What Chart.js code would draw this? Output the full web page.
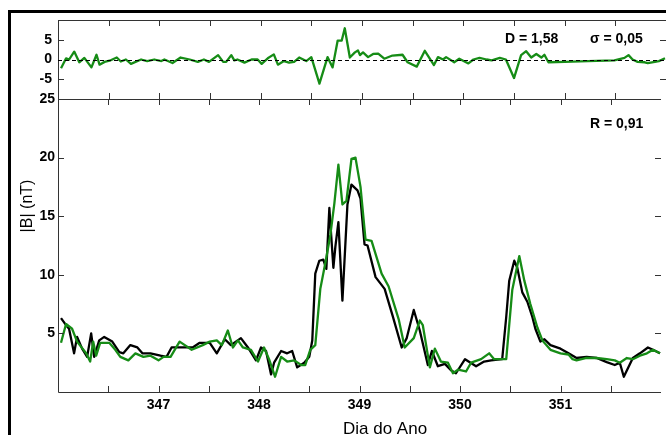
<!DOCTYPE html>
<html>
<head>
<meta charset="utf-8">
<script src="https://cdn.jsdelivr.net/npm/chart.js@4.4.1/dist/chart.umd.min.js"></script>
<style>
  html, body { margin: 0; padding: 0; background: #fff; }
  #wrap { position: relative; width: 666px; height: 435px; overflow: hidden; }
  canvas { position: absolute; left: 0; top: 0; }
</style>
</head>
<body>
<div id="wrap">
  <canvas id="mainChart" width="666" height="435"></canvas>
  <canvas id="diffChart" width="666" height="130"></canvas>
</div>
<script>
// |B| observado (preto)
const blackDays = [346.03, 346.08, 346.11, 346.16, 346.19, 346.24, 346.29, 346.33, 346.36, 346.41, 346.46, 346.54, 346.61, 346.65, 346.72, 346.79, 346.84, 346.92, 347.02, 347.08, 347.13, 347.21, 347.34, 347.41, 347.51, 347.58, 347.66, 347.72, 347.82, 347.89, 347.97, 348.02, 348.07, 348.12, 348.15, 348.22, 348.28, 348.33, 348.38, 348.45, 348.50, 348.53, 348.56, 348.60, 348.64, 348.67, 348.70, 348.74, 348.76, 348.79, 348.83, 348.88, 348.92, 348.98, 349.01, 349.05, 349.08, 349.16, 349.25, 349.33, 349.42, 349.47, 349.54, 349.60, 349.68, 349.72, 349.78, 349.85, 349.91, 349.96, 350.05, 350.16, 350.24, 350.31, 350.42, 350.46, 350.49, 350.54, 350.57, 350.62, 350.67, 350.72, 350.75, 350.80, 350.84, 350.90, 351.00, 351.08, 351.16, 351.26, 351.36, 351.46, 351.54, 351.59, 351.63, 351.72, 351.79, 351.87, 351.92, 351.99];
const blackValues = [6.3, 5.7, 5.4, 3.3, 4.7, 3.7, 3.0, 5.0, 3.0, 4.4, 4.7, 4.3, 3.4, 3.3, 4.0, 3.8, 3.3, 3.3, 3.1, 3.0, 3.8, 3.8, 3.8, 4.2, 4.2, 3.3, 4.5, 4.0, 4.6, 3.8, 2.7, 3.8, 3.5, 1.5, 2.5, 3.5, 3.3, 3.5, 2.1, 2.5, 3.0, 4.4, 10.1, 11.2, 11.3, 10.5, 15.7, 10.6, 12.4, 14.5, 7.8, 16.0, 17.7, 17.2, 16.5, 12.6, 12.5, 9.8, 8.8, 6.5, 3.8, 4.6, 7.0, 5.25, 2.3, 3.5, 2.2, 2.4, 1.85, 1.6, 2.8, 2.2, 2.6, 2.7, 2.8, 6.4, 9.5, 11.2, 10.6, 8.5, 7.7, 6.4, 5.4, 4.3, 4.5, 4.0, 3.7, 3.3, 2.9, 3.0, 2.9, 2.55, 2.3, 2.5, 1.3, 2.9, 3.3, 3.8, 3.6, 3.3];

// |B| modelo (verde)
const greenDays = [346.03, 346.08, 346.14, 346.19, 346.28, 346.32, 346.35, 346.38, 346.42, 346.51, 346.57, 346.62, 346.70, 346.77, 346.85, 346.92, 347.00, 347.05, 347.12, 347.21, 347.33, 347.44, 347.51, 347.58, 347.63, 347.69, 347.74, 347.79, 347.84, 347.92, 347.99, 348.05, 348.10, 348.16, 348.22, 348.28, 348.35, 348.42, 348.46, 348.51, 348.56, 348.61, 348.66, 348.71, 348.75, 348.79, 348.83, 348.87, 348.92, 348.96, 349.01, 349.06, 349.12, 349.22, 349.29, 349.39, 349.45, 349.54, 349.60, 349.63, 349.70, 349.75, 349.81, 349.88, 349.93, 349.98, 350.06, 350.11, 350.21, 350.29, 350.34, 350.46, 350.52, 350.59, 350.64, 350.70, 350.77, 350.82, 350.90, 351.00, 351.08, 351.12, 351.16, 351.25, 351.36, 351.46, 351.54, 351.59, 351.66, 351.72, 351.79, 351.86, 351.92, 351.99];
const greenValues = [4.2, 5.8, 5.4, 4.3, 3.3, 2.6, 4.3, 3.1, 4.2, 4.2, 3.6, 3.0, 2.7, 3.3, 3.0, 3.1, 2.7, 3.0, 3.0, 4.3, 3.6, 4.0, 4.3, 4.4, 4.0, 5.25, 3.8, 4.4, 3.8, 3.6, 2.6, 3.8, 2.8, 1.3, 3.0, 2.6, 2.7, 2.3, 2.3, 3.6, 4.0, 8.8, 11.0, 13.4, 16.1, 19.4, 16.0, 16.3, 19.9, 20.0, 17.5, 13.0, 12.9, 10.1, 9.0, 6.2, 3.8, 4.6, 6.1, 5.7, 2.1, 3.7, 2.6, 2.5, 1.6, 1.9, 1.75, 2.5, 2.8, 3.3, 2.8, 2.8, 8.7, 11.6, 9.5, 7.5, 5.5, 4.4, 3.6, 3.3, 3.2, 2.8, 2.7, 2.9, 2.9, 2.8, 2.7, 2.5, 2.9, 2.8, 3.1, 3.3, 3.6, 3.3];

// diferenca (painel superior)
const diffDays = [346.03, 346.08, 346.11, 346.16, 346.21, 346.26, 346.33, 346.38, 346.41, 346.46, 346.52, 346.58, 346.62, 346.67, 346.72, 346.82, 346.88, 346.95, 347.02, 347.05, 347.13, 347.21, 347.30, 347.38, 347.44, 347.49, 347.58, 347.63, 347.66, 347.71, 347.74, 347.77, 347.84, 347.91, 347.97, 348.01, 348.07, 348.13, 348.17, 348.23, 348.28, 348.33, 348.38, 348.45, 348.50, 348.58, 348.66, 348.71, 348.76, 348.80, 348.83, 348.88, 348.93, 348.96, 348.98, 349.01, 349.06, 349.11, 349.16, 349.22, 349.30, 349.40, 349.45, 349.54, 349.62, 349.71, 349.75, 349.80, 349.83, 349.91, 349.96, 350.05, 350.10, 350.16, 350.23, 350.28, 350.36, 350.42, 350.50, 350.57, 350.62, 350.67, 350.72, 350.77, 350.80, 350.84, 351.00, 351.23, 351.49, 351.59, 351.63, 351.67, 351.72, 351.79, 351.82, 351.89, 351.93, 351.99];
const diffValues = [-2.2, 0.3, 0.0, 2.0, -0.7, 0.4, -2.0, 1.2, -1.3, -0.6, -0.2, 0.5, -0.5, 0.0, -1.1, 0.0, -0.4, 0.0, -0.4, 0.0, -0.9, 0.5, 0.0, -0.6, 0.0, -0.6, 1.1, -0.6, -0.6, 1.1, -0.2, 0.0, -0.8, 0.0, 0.0, -1.1, 0.3, 1.3, -1.3, -0.4, -0.8, -0.6, 0.5, -0.4, 0.6, -6.1, 0.6, -2.0, 4.8, 4.8, 7.9, 0.5, 1.8, 2.3, 1.1, 1.8, 0.6, 1.4, 1.5, 0.2, 1.0, 1.2, -0.7, -1.8, 2.2, -1.4, 0.6, 0.0, 0.6, -0.7, 0.2, -1.0, 0.0, 0.4, 0.0, -0.2, 0.4, 0.0, -4.7, 1.1, 2.1, 0.5, 1.4, 0.5, 1.2, -0.7, -0.6, -0.4, -0.2, 0.4, 1.1, 0.0, -0.6, -0.7, -0.9, -0.6, -0.4, 0.3];

const dayMin = 346, dayMax = 352;
const mainTicks = [0, 5, 10, 15, 20, 25];
const diffTicks = [-10, -5, 0, 5, 10];

const FONT = '"Liberation Sans", Arial, sans-serif';
const GREEN = '#168c16';
const AXIS = '#333';

function toPoints(days, vals) {
    return days.map((d, i) => ({ x: d, y: vals[i] }));
}

// marcas de escala para dentro
function drawInnerTicks(ctx, chart, opts) {
    const a = chart.chartArea;
    const x = chart.scales.x, y = chart.scales.y;
    ctx.beginPath();
    x.ticks.forEach(t => {
        if (t.value <= dayMin || t.value >= dayMax) return;
        const px = Math.round(x.getPixelForValue(t.value)) + 0.5;
        if (opts.top) { ctx.moveTo(px, a.top); ctx.lineTo(px, a.top + 6); }
        if (opts.bottom) { ctx.moveTo(px, a.bottom); ctx.lineTo(px, a.bottom - 6); }
    });
    y.ticks.forEach(t => {
        if (opts.skipY.includes(t.value)) return;
        const py = Math.round(y.getPixelForValue(t.value)) + 0.5;
        ctx.moveTo(a.left, py); ctx.lineTo(a.left + 6, py);
        ctx.moveTo(a.right, py); ctx.lineTo(a.right - 6, py);
    });
    ctx.stroke();
}

const mainDecor = {
    id: 'mainDecor',
    afterDraw(chart) {
        const ctx = chart.ctx, a = chart.chartArea;
        ctx.save();
        // moldura grossa
        ctx.fillStyle = '#000';
        ctx.fillRect(8, 10, 666, 3);
        ctx.fillRect(8, 10, 3, 435);
        // eixos
        ctx.strokeStyle = AXIS;
        ctx.lineWidth = 1;
        ctx.beginPath();
        ctx.moveTo(a.left + 0.5, 20);
        ctx.lineTo(a.left + 0.5, a.bottom + 0.5);
        ctx.lineTo(a.right, a.bottom + 0.5);
        ctx.moveTo(a.left, a.top + 0.5);
        ctx.lineTo(a.right, a.top + 0.5);
        ctx.stroke();
        drawInnerTicks(ctx, chart, { top: true, bottom: true, skipY: [0, 25] });
        // textos
        ctx.fillStyle = '#000';
        ctx.font = 'bold 14px ' + FONT;
        ctx.textAlign = 'left';
        ctx.textBaseline = 'alphabetic';
        ctx.fillText('R = 0,91', 590, 128);
        ctx.font = '17px ' + FONT;
        ctx.fillText('Dia do Ano', 343, 434);
        ctx.translate(32, 206);
        ctx.rotate(-Math.PI / 2);
        ctx.textAlign = 'center';
        ctx.font = '16px ' + FONT;
        ctx.fillText('|B| (nT)', 0, 0);
        ctx.restore();
    }
};

const diffDecor = {
    id: 'diffDecor',
    afterDraw(chart) {
        const ctx = chart.ctx, a = chart.chartArea;
        const y = chart.scales.y;
        ctx.save();
        ctx.strokeStyle = AXIS;
        ctx.lineWidth = 1;
        ctx.beginPath();
        ctx.moveTo(a.left, a.top + 0.5);
        ctx.lineTo(a.right, a.top + 0.5);
        ctx.stroke();
        drawInnerTicks(ctx, chart, { top: true, bottom: true, skipY: [0, -10, 10] });
        // linha zero tracejada
        const y0 = Math.round(y.getPixelForValue(0)) + 0.5;
        ctx.strokeStyle = '#000';
        ctx.setLineDash([4, 3]);
        ctx.beginPath();
        ctx.moveTo(a.left, y0);
        ctx.lineTo(a.right, y0);
        ctx.stroke();
        ctx.setLineDash([]);
        ctx.fillStyle = '#000';
        ctx.font = 'bold 14px ' + FONT;
        ctx.fillText('D = 1,58', 505, 43);
        ctx.fillText('\u03c3 = 0,05', 590, 43);
        ctx.restore();
    }
};

const tickFont = { family: FONT, size: 14, weight: 'bold' };

new Chart(document.getElementById('mainChart'), {
    type: 'line',
    data: {
        datasets: [
            { data: toPoints(greenDays, greenValues), borderColor: GREEN, borderWidth: 2.3 },
            { data: toPoints(blackDays, blackValues), borderColor: '#000', borderWidth: 2.3 }
        ]
    },
    options: {
        responsive: false,
        animation: false,
        parsing: false,
        layout: { padding: { top: 99, left: 0, right: 0, bottom: 0 } },
        elements: { point: { radius: 0 }, line: { tension: 0, borderJoinStyle: 'round' } },
        plugins: { legend: { display: false }, tooltip: { enabled: false } },
        scales: {
            x: {
                type: 'linear', min: dayMin, max: dayMax,
                afterBuildTicks: s => { s.ticks = []; for (let v = dayMin; v <= dayMax; v += 0.5) s.ticks.push({ value: v }); },
                afterFit: s => { s.height = 43; },
                grid: { display: false, drawTicks: false },
                border: { display: false },
                ticks: {
                    autoSkip: false, maxRotation: 0, padding: 5, color: '#000', font: tickFont,
                    callback: v => (Number.isInteger(v) && v > dayMin && v < dayMax) ? String(v) : ''
                }
            },
            y: {
                type: 'linear', min: mainTicks[0], max: mainTicks[mainTicks.length - 1],
                afterBuildTicks: s => { s.ticks = mainTicks.map(v => ({ value: v })); },
                afterFit: s => { s.width = 58; },
                grid: { display: false, drawTicks: false },
                border: { display: false },
                ticks: { autoSkip: false, padding: 3, color: '#000', font: tickFont, callback: v => v === 0 ? '' : String(v) }
            }
        }
    },
    plugins: [mainDecor]
});

new Chart(document.getElementById('diffChart'), {
    type: 'line',
    data: {
        datasets: [
            { data: toPoints(diffDays, diffValues), borderColor: GREEN, borderWidth: 2.3 }
        ]
    },
    options: {
        responsive: false,
        animation: false,
        parsing: false,
        layout: { padding: { top: 20, left: 0, right: 0, bottom: 31 } },
        elements: { point: { radius: 0 }, line: { tension: 0, borderJoinStyle: 'round' } },
        plugins: { legend: { display: false }, tooltip: { enabled: false } },
        scales: {
            x: {
                type: 'linear', min: dayMin, max: dayMax,
                afterBuildTicks: s => { s.ticks = []; for (let v = dayMin; v <= dayMax; v += 0.5) s.ticks.push({ value: v }); },
                afterFit: s => { s.height = 0; },
                grid: { display: false, drawTicks: false },
                border: { display: false },
                ticks: { display: false }
            },
            y: {
                type: 'linear', min: diffTicks[0], max: diffTicks[diffTicks.length - 1],
                afterBuildTicks: s => { s.ticks = diffTicks.map(v => ({ value: v })); },
                afterFit: s => { s.width = 58; },
                grid: { display: false, drawTicks: false },
                border: { display: false },
                ticks: { autoSkip: false, padding: 6, color: '#000', font: tickFont, callback: v => Math.abs(v) === 10 ? '' : String(v) }
            }
        }
    },
    plugins: [diffDecor]
});
</script>
</body>
</html>
